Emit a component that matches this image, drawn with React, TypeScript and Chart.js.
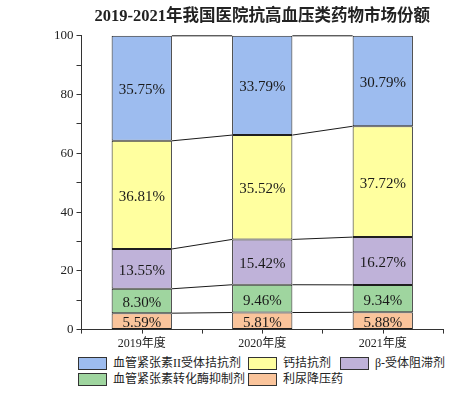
import React, { useEffect, useRef } from 'react';
import { Chart, registerables } from 'chart.js';

Chart.register(...registerables);

const categories = ['2019年度', '2020年度', '2021年度'];
const seriesNames = ['利尿降压药', '血管紧张素转化酶抑制剂', 'β-受体阻滞剂', '钙拮抗剂', '血管紧张素II受体拮抗剂'];
const diuretic = [5.59, 5.81, 5.88];
const acei = [8.3, 9.46, 9.34];
const betaBlocker = [13.55, 15.42, 16.27];
const ccb = [36.81, 35.52, 37.72];
const arb = [35.75, 33.79, 30.79];
const yTickLabels = [0, 20, 40, 60, 80, 100];
const titleText = '2019-2021年我国医院抗高血压类药物市场份额';

const seriesValues = [diuretic, acei, betaBlocker, ccb, arb];
const seriesColors = ['#FAC49B', '#9FD59F', '#BFB2D9', '#FFFF9F', '#9DBCEF'];
// legend order (row-major, 3 columns)
const legendOrder = [4, 3, 2, 1, 0];

const SERIF = "'Liberation Serif', 'Noto Sans CJK SC', serif";
const INK = '#222';

const connectorPlugin = {
  id: 'connectors',
  afterDatasetsDraw(chart: any) {
    const ctx = chart.ctx;
    ctx.save();
    ctx.strokeStyle = '#1a1a1a';
    ctx.lineWidth = 1;
    chart.data.datasets.forEach((_: any, d: number) => {
      const meta = chart.getDatasetMeta(d);
      for (let i = 0; i < meta.data.length - 1; i++) {
        const a = meta.data[i].getProps(['x', 'y', 'width'], true);
        const b = meta.data[i + 1].getProps(['x', 'y', 'width'], true);
        ctx.beginPath();
        ctx.moveTo(a.x + a.width / 2, a.y);
        ctx.lineTo(b.x - b.width / 2, b.y);
        ctx.stroke();
      }
    });
    ctx.restore();
  },
};

const labelPlugin = {
  id: 'segLabels',
  afterDatasetsDraw(chart: any) {
    const ctx = chart.ctx;
    ctx.save();
    ctx.font = `15px ${SERIF}`;
    ctx.fillStyle = '#1a1a1a';
    ctx.textAlign = 'center';
    ctx.textBaseline = 'middle';
    chart.data.datasets.forEach((ds: any, d: number) => {
      const meta = chart.getDatasetMeta(d);
      meta.data.forEach((el: any, i: number) => {
        const p = el.getProps(['x', 'y', 'base'], true);
        ctx.fillText(ds.data[i].toFixed(2) + '%', p.x, (p.y + p.base) / 2 + 2);
      });
    });
    ctx.restore();
  },
};

const centerTickPlugin = {
  id: 'centerTicks',
  afterDraw(chart: any) {
    const x = chart.scales.x;
    const ctx = chart.ctx;
    ctx.save();
    ctx.strokeStyle = '#333';
    ctx.lineWidth = 1;
    categories.forEach((_, i) => {
      const px = Math.round(x.getPixelForValue(i)) + 0.5;
      ctx.beginPath();
      ctx.moveTo(px, x.top);
      ctx.lineTo(px, x.top + 4);
      ctx.stroke();
    });
    ctx.restore();
  },
};

export default function App() {
  const ref = useRef<HTMLCanvasElement>(null);
  useEffect(() => {
    const chart = new Chart(ref.current as HTMLCanvasElement, {
      type: 'bar',
      data: {
        labels: categories,
        datasets: seriesValues.map((vals, i) => ({
          label: seriesNames[i],
          data: vals,
          backgroundColor: seriesColors[i],
          borderColor: '#1f1f1f',
          borderWidth: 1,
          borderSkipped: false,
          barPercentage: 0.5,
          categoryPercentage: 1,
        })),
      },
      options: {
        responsive: false,
        animation: false,
        layout: { padding: { left: 51, right: 24, top: 5, bottom: 0 } },
        plugins: {
          legend: { display: false },
          tooltip: { enabled: false },
          title: {
            display: true,
            text: titleText,
            fullSize: false,
            color: INK,
            font: { family: SERIF, size: 16.5, weight: 'bold' },
            padding: { top: 2, bottom: 9 },
          },
        },
        scales: {
          x: {
            stacked: true,
            grid: { display: true, drawOnChartArea: false, drawTicks: true, tickLength: 4, color: '#333', offset: true },
            border: { display: true, color: '#333', width: 1 },
            ticks: { color: INK, font: { family: SERIF, size: 12 }, padding: 3 },
          },
          y: {
            stacked: true,
            min: 0,
            max: 100,
            grid: { display: true, drawOnChartArea: false, drawTicks: true, tickLength: 5, color: '#333' },
            border: { display: true, color: '#333', width: 1 },
            ticks: {
              stepSize: 10,
              color: INK,
              font: { family: SERIF, size: 13 },
              padding: 3,
              callback: (v: any) => (yTickLabels.includes(Number(v)) ? String(v) : ''),
            },
          },
        },
      },
      plugins: [connectorPlugin, labelPlugin, centerTickPlugin],
    } as any);
    return () => chart.destroy();
  }, []);

  const cols = [78, 248, 340];
  const rows = [357, 373];

  return (
    <div style={{ position: 'fixed', left: 0, top: 0, width: 467, height: 397, background: '#fff' }}>
      <canvas ref={ref} width={467} height={354} style={{ position: 'absolute', left: 0, top: 0 }} />
      {legendOrder.map((s, k) => {
        const left = cols[k % 3];
        const top = rows[Math.floor(k / 3)];
        return (
          <div key={s} style={{ position: 'absolute', left, top: top - 2, height: 16, display: 'flex', alignItems: 'center', whiteSpace: 'nowrap' }}>
            <div style={{ width: 27, height: 11, background: seriesColors[s], border: '1px solid #333' }} />
            <span style={{ marginLeft: 6, fontFamily: SERIF, fontSize: 12, color: INK, lineHeight: '16px' }}>{seriesNames[s]}</span>
          </div>
        );
      })}
    </div>
  );
}
